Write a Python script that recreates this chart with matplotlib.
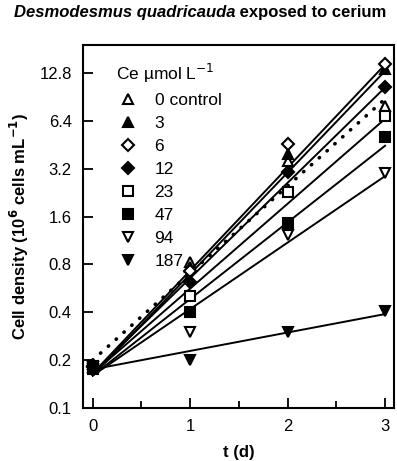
import numpy as np
import matplotlib
matplotlib.use("Agg")
import matplotlib.pyplot as plt
from matplotlib.ticker import FixedLocator, NullLocator

plt.rcParams['font.family'] = ['Liberation Sans', 'DejaVu Sans']

# sampling days
t = [0, 1, 2, 3]

# Ce concentrations (umol/L) and measured cell densities (10^6 cells/mL)
labels = ['0 control', '3', '6', '12', '23', '47', '94', '187']
dens_0 = [0.19, 0.83, 3.6, 7.95]
dens_3 = [0.18, 0.77, 3.98, 13.5]
dens_6 = [0.185, 0.73, 4.6, 14.6]
dens_12 = [0.18, 0.62, 3.06, 10.4]
dens_23 = [0.185, 0.51, 2.29, 6.9]
dens_47 = [0.175, 0.40, 1.45, 5.08]
dens_94 = [0.18, 0.30, 1.23, 3.02]
dens_187 = [0.175, 0.20, 0.30, 0.41]

# exponential fit lines, value at t=0 and t=3
fit_start = [0.20, 0.16, 0.165, 0.165, 0.165, 0.16, 0.16, 0.175]
fit_end = [8.8, 13.2, 14.5, 10.4, 6.6, 4.47, 2.88, 0.39]

y_ticks = [0.1, 0.2, 0.4, 0.8, 1.6, 3.2, 6.4, 12.8]

series = [dens_0, dens_3, dens_6, dens_12, dens_23, dens_47, dens_94, dens_187]
markers = ['^', '^', 'D', 'D', 's', 's', 'v', 'v']
filled = [False, True, False, True, False, True, False, True]
msizes = [7.5, 7.5, 6.5, 6.5, 6.5, 6.5, 7.5, 7.5]

fig = plt.figure(figsize=(3.97, 4.61), dpi=100)
ax = fig.add_axes([0.209, 0.115, 0.783, 0.787])

handles = []
for i, d in enumerate(series):
    ls = (0, (0.1, 2.8)) if i == 0 else '-'
    lw = 2.6 if i == 0 else 1.4
    ax.plot([t[0], t[-1]], [fit_start[i], fit_end[i]], color='black',
            linestyle=ls, linewidth=lw, dash_capstyle='round', zorder=2)
    fc = 'black' if filled[i] else 'white'
    h, = ax.plot(t, d, linestyle='none', marker=markers[i], markersize=msizes[i],
                 markerfacecolor=fc, markeredgecolor='black', markeredgewidth=1.5,
                 label=labels[i], zorder=3, clip_on=False)
    handles.append(h)

ax.set_yscale('log', base=2)
ax.set_ylim(0.1, 19.2)
ax.set_xlim(-0.1, 3.09)
ax.yaxis.set_major_locator(FixedLocator(y_ticks))
ax.yaxis.set_minor_locator(NullLocator())
ax.set_yticklabels([str(v) for v in y_ticks])
ax.set_xticks([0, 1, 2, 3])
ax.set_xticks([0.5, 1.5, 2.5], minor=True)

ax.tick_params(axis='both', which='major', direction='in', length=7, width=1.3,
               labelsize=12, pad=8)
ax.tick_params(axis='x', which='minor', direction='in', length=5, width=1.3)
ax.tick_params(axis='y', pad=8)
for s in ax.spines.values():
    s.set_linewidth(1.5)

ax.set_xlabel('t (d)', fontsize=12, fontweight='bold', labelpad=8)
ax.set_ylabel('Cell density (10$^{\\mathbf{6}}$ cells mL$^{\\mathbf{-1}}$)',
              fontsize=12, fontweight='bold', labelpad=6)

leg = ax.legend(handles=handles, title='Ce \u00b5mol L$^{-1}$', loc='upper left',
                bbox_to_anchor=(0.085, 0.972), frameon=False, fontsize=12.5,
                title_fontsize=12.5, handlelength=1.3, handletextpad=0.9,
                labelspacing=0.45, alignment='left', borderaxespad=0)

# title: italic species name followed by plain bold text
fig.canvas.draw()
renderer = fig.canvas.get_renderer()
t1 = fig.text(0.035, 0.972, 'Desmodesmus quadricauda', fontsize=12,
              fontweight='bold', style='italic', va='center', ha='left')
bb = t1.get_window_extent(renderer)
x2 = fig.transFigure.inverted().transform((bb.x1, bb.y0))[0]
fig.text(x2, 0.972, ' exposed to cerium', fontsize=12, fontweight='bold',
         va='center', ha='left')

fig.savefig('out.png', dpi=100)
